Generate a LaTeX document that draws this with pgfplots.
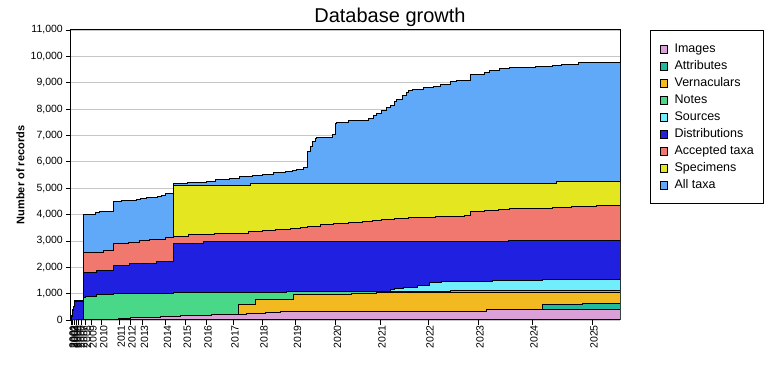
\documentclass[border=0pt]{standalone}
\usepackage{fontspec}
\setmainfont{Liberation Sans}
\usepackage{pgfplots}
\pgfplotsset{compat=1.18}
\definecolor{cAll}{RGB}{96,168,248}
\definecolor{cSpec}{RGB}{228,230,32}
\definecolor{cAcc}{RGB}{240,120,110}
\definecolor{cDist}{RGB}{32,32,224}
\definecolor{cSrc}{RGB}{112,238,252}
\definecolor{cNotes}{RGB}{72,216,136}
\definecolor{cVern}{RGB}{242,186,32}
\definecolor{cAttr}{RGB}{32,186,160}
\definecolor{cImg}{RGB}{220,160,216}
\begin{document}
\begin{tikzpicture}
\path[use as bounding box] (-71pt,-60pt) rectangle (709pt,320pt);
\begin{axis}[
  scale only axis, width=549pt, height=290pt,
  xmin=0, xmax=549, ymin=0, ymax=11000,
  axis line style={black, line width=1pt},
  ytick distance=1000,
  scaled y ticks=false,
  ymajorgrids, grid style={gray!45, line width=0.7pt},
  tick align=outside, major tick length=5pt,
  tick style={black, line width=0.8pt},
  xtick pos=bottom, ytick pos=left,
  /pgf/number format/assume math mode=true,
  /pgf/number format/1000 sep={,},
  ticklabel style={font=\fontsize{10.5}{12}\selectfont},
  yticklabel style={inner sep=0pt, xshift=-3pt},
  xtick={0,0.8,1.7,3.3,5,7.7,10.7,14.3,20,30.7,48.3,59,71.5,94.5,114.3,135,162,191,224.5,264.5,309,357,407,461,521},
  xticklabels={2001,2002,2003,2004,2005,2006,2007,2008,2009,2010,2011,2012,2013,2014,2015,2016,2017,2018,2019,2020,2021,2022,2023,2024,2025},
  xticklabel style={rotate=90, anchor=east, inner sep=0pt, yshift=-2pt},
  title={Database growth},
  title style={font=\fontsize{20}{24}\selectfont, at={(axis description cs:0.581,1)}, anchor=base, inner sep=0pt, yshift=1pt},
  ylabel={Number of records},
  ylabel style={font=\bfseries\fontsize{11}{13}\selectfont, at={(axis description cs:-0.092,0.5)}, anchor=center},
  reverse legend,
  legend cell align=left,
  legend image code/.code={\draw[#1, line width=0.6pt, draw=black] (0pt,-3.75pt) rectangle (7.5pt,3.75pt);},
  legend style={at={(axis description cs:1,1)}, anchor=north west, xshift=30pt,
    draw=black, line width=1pt, fill=white,
    font=\fontsize{12.5}{14}\selectfont,
    inner xsep=9pt, inner ysep=12.5pt, row sep=4.5pt,
    nodes={inner xsep=1pt, inner ysep=0.5pt, text height=9pt, text depth=2.5pt},
    /tikz/every odd column/.append style={column sep=6pt}},
]
% All taxa
\addplot[const plot, fill=cAll, draw=black, line width=1pt] coordinates {
(0,0) (1,180) (1.7,380) (2.5,530) (3.3,650) (4,740) (12.7,3990) (25,4085) (28.3,4120) (42.3,4490) (50.7,4540) (65.7,4580) (69.7,4615) (75.7,4650) (86.7,4700) (90.7,4740) (95,4800) (102.3,5180) (116.7,5220) (135.7,5270) (144.7,5335) (158.3,5375) (168,5440) (181.7,5490) (191.7,5525) (202.3,5590) (214.7,5625) (221.7,5680) (225,5715) (232.3,5780) (236.3,6385) (239,6575) (241.7,6765) (244,6890) (245,6930) (261.7,7020) (264,7460) (265,7500) (277.3,7550) (291.7,7585) (297.3,7650) (302.3,7750) (305.7,7840) (310.7,7965) (315,8065) (319,8130) (323.3,8280) (325.7,8380) (331.7,8500) (335,8620) (337.3,8700) (341.7,8750) (352.3,8810) (362.3,8850) (369,8915) (375,8940) (379.7,9040) (385,9090) (399,9320) (413,9380) (418.3,9455) (428.3,9530) (438.3,9585) (464,9620) (481.7,9670) (490.7,9710) (507.3,9750) (525.7,9775) (549,9775)
} \closedcycle;
\addlegendentry{All taxa}
% Specimens
\addplot[const plot, fill=cSpec, draw=black, line width=1pt] coordinates {
(102.3,5120) (179,5160) (303,5195) (485,5235) (549,5235)
} \closedcycle;
\addlegendentry{Specimens}
% Accepted taxa
\addplot[const plot, fill=cAcc, draw=black, line width=1pt] coordinates {
(0,0) (1,170) (1.7,370) (2.5,520) (3.3,640) (4,730) (12.7,2570) (32.3,2655) (42.3,2910) (57.3,2945) (69,3010) (78.3,3060) (95,3125) (102.3,3160) (117.3,3225) (144,3290) (177.3,3350) (191,3390) (204,3420) (219,3460) (229,3500) (236.3,3565) (249,3630) (262.3,3665) (277.3,3705) (291.7,3745) (301.7,3780) (310.7,3820) (323.3,3855) (337.3,3895) (364,3930) (393.3,3980) (399,4110) (413.3,4160) (427.3,4195) (438.3,4235) (481.7,4275) (500.7,4310) (525.7,4360) (549,4360)
} \closedcycle;
\addlegendentry{Accepted taxa}
% Distributions
\addplot[const plot, fill=cDist, draw=black, line width=1pt] coordinates {
(0,0) (1,150) (1.7,350) (2.5,500) (3.3,620) (4,720) (12.7,1810) (25.7,1860) (42.3,2050) (59,2125) (85.7,2210) (102.3,2910) (132.3,2960) (159,2990) (437,3025) (549,3025)
} \closedcycle;
\addlegendentry{Distributions}
% Sources
\addplot[const plot, fill=cSrc, draw=black, line width=1pt] coordinates {
(305,1075) (319,1165) (323,1200) (332.3,1240) (346.3,1290) (358.3,1420) (370.7,1460) (421.7,1500) (471.5,1545) (549,1545)
} \closedcycle;
\addlegendentry{Sources}
% Notes
\addplot[const plot, fill=cNotes, draw=black, line width=1pt] coordinates {
(12.7,860) (15,910) (25.7,950) (42.3,1010) (102.3,1050) (215.7,1090) (379.7,1115) (549,1115)
} \closedcycle;
\addlegendentry{Notes}
% Vernaculars
\addplot[const plot, fill=cVern, draw=black, line width=1pt] coordinates {
(167.3,570) (184.7,785) (222.3,975) (280.7,1010) (305.7,1045) (549,1045)
} \closedcycle;
\addlegendentry{Vernaculars}
% Attributes
\addplot[const plot, fill=cAttr, draw=black, line width=1pt] coordinates {
(471.3,570) (496.7,595) (511.7,620) (549,620)
} \closedcycle;
\addlegendentry{Attributes}
% Images
\addplot[const plot, fill=cImg, draw=black, line width=1pt] coordinates {
(48,50) (60,80) (70,100) (90,140) (110,165) (140.7,215) (175,250) (194,290) (209,340) (415.7,380) (496.7,415) (549,415)
} \closedcycle;
\addlegendentry{Images}
\end{axis}
\end{tikzpicture}
\end{document}
